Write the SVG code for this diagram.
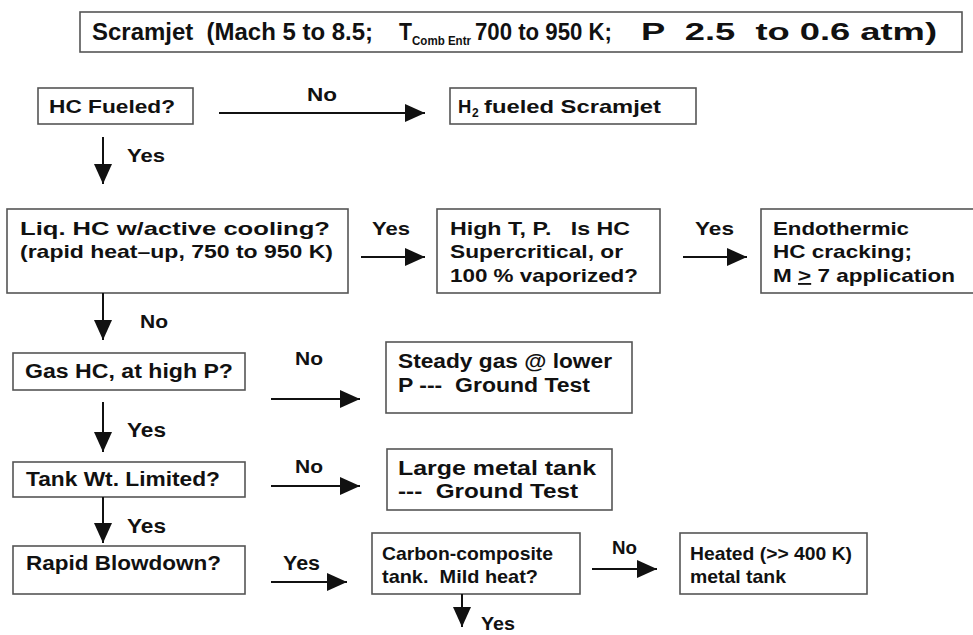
<svg xmlns="http://www.w3.org/2000/svg" width="973" height="635" viewBox="0 0 973 635" xml:space="preserve">
<style>
.bx{fill:#fff;stroke:#555;stroke-width:1.6}
text{font-family:"Liberation Sans",Arial,sans-serif;font-weight:bold;fill:#111;white-space:pre}
.t{font-size:18.5px}
.l{font-size:20px}
.h{font-size:23px}
.c{stroke:#111;stroke-width:2;fill:none;marker-end:url(#ah)}
</style>
<defs>
<marker id="ah" markerUnits="userSpaceOnUse" markerWidth="20" markerHeight="18" refX="20" refY="9" orient="auto">
<path d="M0,0 L20,9 L0,18 z" fill="#111"/>
</marker>
</defs>
<rect width="973" height="635" fill="#fff"/>
<g id="title">
<rect class="bx" x="80" y="12" width="882" height="40"/>
<text class="h" x="92" y="40" textLength="281" lengthAdjust="spacingAndGlyphs">Scramjet  (Mach 5 to 8.5;</text>
<text class="h" x="399" y="40" textLength="13" lengthAdjust="spacingAndGlyphs">T</text>
<text x="412" y="45" font-size="13" textLength="59" lengthAdjust="spacingAndGlyphs">Comb Entr</text>
<text class="h" x="475" y="40" textLength="137" lengthAdjust="spacingAndGlyphs">700 to 950 K;</text>
<text class="h" x="641" y="40" textLength="296" lengthAdjust="spacingAndGlyphs">P  2.5  to 0.6 atm)</text>
</g>
<g id="hcfueled">
<rect class="bx" x="38" y="88" width="155" height="36"/>
<text class="t" x="49" y="113" textLength="126" lengthAdjust="spacingAndGlyphs">HC Fueled?</text>
</g>
<g id="h2">
<rect class="bx" x="450" y="88" width="246" height="36"/>
<text class="t" x="458" y="113">H</text>
<text x="472" y="117" font-size="12">2</text>
<text class="t" x="484" y="113" textLength="177" lengthAdjust="spacingAndGlyphs">fueled Scramjet</text>
</g>
<g id="liq">
<rect class="bx" x="7" y="209" width="341" height="84"/>
<text class="t" x="20" y="235" textLength="310" lengthAdjust="spacingAndGlyphs">Liq. HC w/active cooling?</text>
<text class="t" x="20" y="258" textLength="313" lengthAdjust="spacingAndGlyphs">(rapid heat–up, 750 to 950 K)</text>
</g>
<g id="hight">
<rect class="bx" x="437" y="209" width="223" height="84"/>
<text class="t" x="450" y="235" textLength="180" lengthAdjust="spacingAndGlyphs">High T, P.   Is HC</text>
<text class="t" x="450" y="258" textLength="173" lengthAdjust="spacingAndGlyphs">Supercritical, or</text>
<text class="t" x="450" y="282" textLength="188" lengthAdjust="spacingAndGlyphs">100 % vaporized?</text>
</g>
<g id="endo">
<rect class="bx" x="761" y="209" width="220" height="84"/>
<text class="t" x="773" y="235" textLength="136" lengthAdjust="spacingAndGlyphs">Endothermic</text>
<text class="t" x="773" y="258" textLength="139" lengthAdjust="spacingAndGlyphs">HC cracking;</text>
<text class="t" x="773" y="282" textLength="182" lengthAdjust="spacingAndGlyphs">M <tspan text-decoration="underline">&gt;</tspan> 7 application</text>
</g>
<g id="gashc">
<rect class="bx" x="13" y="353" width="232" height="37"/>
<text class="l" x="25" y="378" textLength="208" lengthAdjust="spacingAndGlyphs">Gas HC, at high P?</text>
</g>
<g id="steady">
<rect class="bx" x="386" y="342" width="246" height="71"/>
<text class="l" x="398" y="368" textLength="214" lengthAdjust="spacingAndGlyphs">Steady gas @ lower</text>
<text class="l" x="398" y="392" textLength="192" lengthAdjust="spacingAndGlyphs">P ---  Ground Test</text>
</g>
<g id="tank">
<rect class="bx" x="13" y="462" width="232" height="35"/>
<text class="l" x="26" y="486" textLength="194" lengthAdjust="spacingAndGlyphs">Tank Wt. Limited?</text>
</g>
<g id="large">
<rect class="bx" x="387" y="449" width="225" height="61"/>
<text class="l" x="398" y="475" textLength="198" lengthAdjust="spacingAndGlyphs">Large metal tank</text>
<text class="l" x="398" y="498" textLength="180" lengthAdjust="spacingAndGlyphs">---  Ground Test</text>
</g>
<g id="rapid">
<rect class="bx" x="13" y="546" width="232" height="48"/>
<text class="l" x="26" y="570" textLength="195" lengthAdjust="spacingAndGlyphs">Rapid Blowdown?</text>
</g>
<g id="carbon">
<rect class="bx" x="372" y="533" width="208" height="61"/>
<text class="t" x="382" y="560" textLength="171" lengthAdjust="spacingAndGlyphs">Carbon-composite</text>
<text class="t" x="382" y="583" textLength="156" lengthAdjust="spacingAndGlyphs">tank.  Mild heat?</text>
</g>
<g id="heated">
<rect class="bx" x="680" y="533" width="187" height="61"/>
<text class="t" x="690" y="560" textLength="162" lengthAdjust="spacingAndGlyphs">Heated (&gt;&gt; 400 K)</text>
<text class="t" x="690" y="583" textLength="96" lengthAdjust="spacingAndGlyphs">metal tank</text>
</g>
<g id="connectors">
<line class="c" x1="219" y1="113" x2="425" y2="113"/>
<text class="t" x="307" y="101" textLength="30" lengthAdjust="spacingAndGlyphs">No</text>
<line class="c" x1="103" y1="137" x2="103" y2="184"/>
<text class="t" x="127" y="162" textLength="38" lengthAdjust="spacingAndGlyphs">Yes</text>
<line class="c" x1="361" y1="257" x2="425" y2="257"/>
<text class="t" x="372" y="235" textLength="38" lengthAdjust="spacingAndGlyphs">Yes</text>
<line class="c" x1="683" y1="257" x2="747" y2="257"/>
<text class="t" x="695" y="235" textLength="39" lengthAdjust="spacingAndGlyphs">Yes</text>
<line class="c" x1="103" y1="293" x2="103" y2="340"/>
<text class="t" x="140" y="328" textLength="28" lengthAdjust="spacingAndGlyphs">No</text>
<line class="c" x1="271" y1="399" x2="360" y2="399"/>
<text class="t" x="295" y="365" textLength="28" lengthAdjust="spacingAndGlyphs">No</text>
<line class="c" x1="103" y1="402" x2="103" y2="452"/>
<text class="l" x="127" y="437" textLength="39" lengthAdjust="spacingAndGlyphs">Yes</text>
<line class="c" x1="271" y1="486" x2="360" y2="486"/>
<text class="t" x="295" y="473" textLength="28" lengthAdjust="spacingAndGlyphs">No</text>
<line class="c" x1="103" y1="497" x2="103" y2="543"/>
<text class="l" x="127" y="533" textLength="39" lengthAdjust="spacingAndGlyphs">Yes</text>
<line class="c" x1="271" y1="582" x2="347" y2="582"/>
<text class="l" x="283" y="570" textLength="37" lengthAdjust="spacingAndGlyphs">Yes</text>
<line class="c" x1="592" y1="569" x2="657" y2="569"/>
<text class="t" x="612" y="554" textLength="25" lengthAdjust="spacingAndGlyphs">No</text>
<line class="c" x1="462" y1="594" x2="462" y2="627"/>
<text class="t" x="481" y="630" textLength="34" lengthAdjust="spacingAndGlyphs">Yes</text>
</g>
</svg>
